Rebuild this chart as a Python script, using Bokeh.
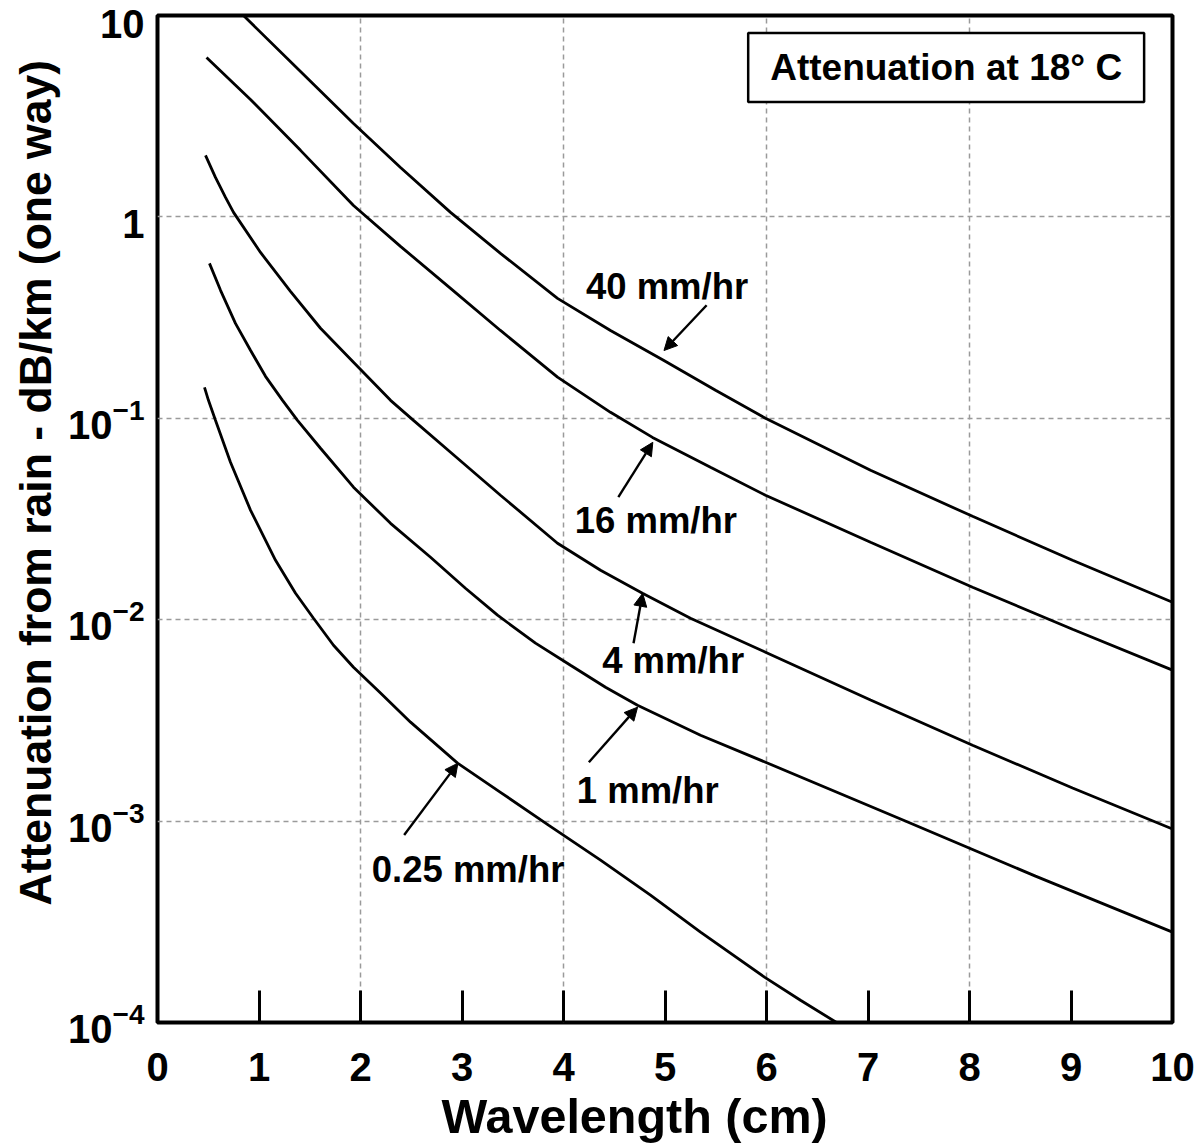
from bokeh.plotting import figure
from bokeh.models import (Range1d, FixedTicker, Label, Arrow, NormalHead, LogTickFormatter, Title)
from bokeh.embed import file_html
from bokeh.resources import INLINE

# ---- data (wavelength in cm, attenuation in dB/km, one way) ----
wl_40 = [0.847, 1.409, 1.931, 2.394, 2.887, 3.379, 3.941, 4.463, 4.985, 5.498, 5.990, 7.025, 8.030, 9.015, 10.0]
att_40 = [10.0, 5.27, 2.91, 1.76, 1.053, 0.659, 0.394, 0.273, 0.194, 0.1377, 0.100, 0.0552, 0.0326, 0.01973, 0.01221]

wl_16 = [0.483, 0.916, 1.409, 1.931, 2.394, 2.887, 3.379, 3.941, 4.463, 4.877, 5.448, 5.990, 7.025, 8.030, 9.015, 10.0]
att_16 = [6.19, 3.83, 2.14, 1.14, 0.714, 0.442, 0.273, 0.160, 0.1071, 0.0804, 0.0571, 0.0415, 0.02424, 0.0145, 0.00897, 0.00562]

wl_4 = [0.473, 0.571, 0.670, 0.749, 1.015, 1.310, 1.606, 1.931, 2.296, 2.522, 2.887, 3.379, 3.941, 4.365, 4.778, 5.251, 5.990, 7.025, 8.030, 9.015, 10.0]
att_4 = [2.02, 1.57, 1.25, 1.053, 0.666, 0.427, 0.280, 0.190, 0.1228, 0.0977, 0.0678, 0.0415, 0.02397, 0.0176, 0.01353, 0.01017, 0.0069, 0.00399, 0.00238, 0.00146, 0.000913]

wl_1 = [0.512, 0.621, 0.768, 0.916, 1.064, 1.232, 1.379, 1.606, 1.931, 2.296, 2.690, 3.034, 3.350, 3.724, 4.069, 4.414, 4.729, 5.350, 5.990, 7.350, 8.650, 10.0]
att_1 = [0.588, 0.432, 0.296, 0.2176, 0.1616, 0.1228, 0.0977, 0.0710, 0.0455, 0.0301, 0.02043, 0.01433, 0.01053, 0.00765, 0.00594, 0.00462, 0.00376, 0.00267, 0.00196, 0.00101, 0.000533, 0.000281]

wl_025 = [0.463, 0.502, 0.571, 0.719, 0.916, 1.163, 1.360, 1.537, 1.734, 1.931, 2.197, 2.493, 2.956, 3.379, 3.852, 4.365, 4.857, 5.350, 5.980, 6.335, 6.690]
att_025 = [0.1425, 0.1228, 0.0977, 0.0605, 0.0350, 0.01973, 0.01353, 0.01017, 0.00747, 0.00581, 0.00432, 0.00310, 0.00194, 0.00139, 0.000955, 0.00064, 0.000429, 0.000281, 0.000168, 0.000129, 0.0001]

series = [(wl_40, att_40), (wl_16, att_16), (wl_4, att_4), (wl_1, att_1), (wl_025, att_025)]
rate_labels = ["40 mm/hr", "16 mm/hr", "4 mm/hr", "1 mm/hr", "0.25 mm/hr"]

x_ticks = [0, 1, 2, 3, 4, 5, 6, 7, 8, 9, 10]
y_ticks = [10, 1, 0.1, 0.01, 0.001, 0.0001]
y_plain_text = ["10", "1", None, None, None, None]   # others shown as 10 with exponent

title_text = "Attenuation at 18\u00b0 C"
x_title = "Wavelength (cm)"
y_title = "Attenuation from rain - dB/km (one way)"

# ---- annotation placement (data coords) ----
label_pos = [(5.02, 0.452), (4.91, 0.0312), (5.08, 0.0063), (4.83, 0.001426), (3.06, 0.000578)]
arrow_pos = [((5.41, 0.364), (4.99, 0.217)),
             ((4.54, 0.0406), (4.88, 0.0760)),
             ((4.69, 0.00764), (4.78, 0.01352)),
             ((4.25, 0.00196), (4.73, 0.00368)),
             ((2.43, 0.000853), (2.96, 0.00194))]

# ---- style ----
FONT = "Liberation Sans"
DECADE_PX = 201.5
label_shift_px = [9, 7, 0, 0, 0, 0]      # plain labels sit a little below their gridline
y_label_ticks = [v * 10 ** (-s / DECADE_PX) for v, s in zip(y_ticks, label_shift_px)]

p = figure(width=1200, height=1146, x_range=Range1d(0, 10), y_range=Range1d(1e-4, 10),
           y_axis_type="log", output_backend="svg", toolbar_location=None,
           min_border_left=157, min_border_right=28, min_border_top=15, min_border_bottom=124)
p.background_fill_color = "white"
p.border_fill_color = "white"
p.outline_line_color = "black"
p.outline_line_width = 4

# grid
p.xgrid.ticker = FixedTicker(ticks=[2, 4, 6, 8])
p.ygrid.ticker = FixedTicker(ticks=[1e-3, 1e-2, 1e-1, 1])
for g in (p.xgrid, p.ygrid):
    g.grid_line_color = "#9a9a9a"
    g.grid_line_dash = "5 4"
    g.grid_line_width = 1.5

# x axis
xa = p.xaxis[0]
xa.ticker = FixedTicker(ticks=x_ticks)
xa.axis_line_color = None
xa.major_tick_in = 32
xa.major_tick_out = 0
xa.major_tick_line_width = 3
xa.major_tick_line_color = "black"
xa.minor_tick_line_color = None
xa.major_label_text_font = FONT
xa.major_label_text_font_style = "bold"
xa.major_label_text_font_size = "40px"
xa.major_label_text_color = "black"
xa.major_label_standoff = 30

# y axis: no ticks, power-of-ten labels
ya = p.yaxis[0]
ya.ticker = FixedTicker(ticks=y_label_ticks)
ya.formatter = LogTickFormatter()
ya.major_label_overrides = {t: s for t, s in zip(y_label_ticks, y_plain_text) if s is not None}
ya.axis_line_color = None
ya.major_tick_line_color = None
ya.minor_tick_line_color = None
ya.major_tick_in = 0
ya.major_tick_out = 0
ya.major_label_text_font = FONT
ya.major_label_text_font_style = "bold"
ya.major_label_text_font_size = "40px"
ya.major_label_text_color = "black"
ya.major_label_standoff = 13

for wl, att in series:
    p.line(wl, att, line_color="black", line_width=2.8)

for (x, y), t in zip(label_pos, rate_labels):
    p.add_layout(Label(x=x, y=y, text=t, text_align="center", text_baseline="middle",
                       text_font=FONT, text_font_style="bold", text_font_size="36.5px",
                       text_color="black"))

for (s, e) in arrow_pos:
    p.add_layout(Arrow(end=NormalHead(size=13, fill_color="black", line_color="black", line_width=1),
                       x_start=s[0], y_start=s[1], x_end=e[0], y_end=e[1],
                       line_color="black", line_width=2.4))

# title box
p.add_layout(Label(x=7.77, y=5.52, text=title_text, text_align="center", text_baseline="middle",
                   text_font=FONT, text_font_style="bold", text_font_size="37px", text_color="black",
                   background_fill_color="white", border_line_color="black", border_line_width=2.5,
                   padding=(22, 22, 14, 14)))

# axis titles
p.add_layout(Title(text=x_title, align="left", offset=284, standoff=6,
                   text_font=FONT, text_font_style="bold", text_font_size="48.5px",
                   text_color="black"), "below")
p.add_layout(Title(text=y_title, align="left", offset=117, standoff=12,
                   text_font=FONT, text_font_style="bold", text_font_size="44.5px",
                   text_color="black"), "left")

open("out.html", "w").write(file_html(p, INLINE))
